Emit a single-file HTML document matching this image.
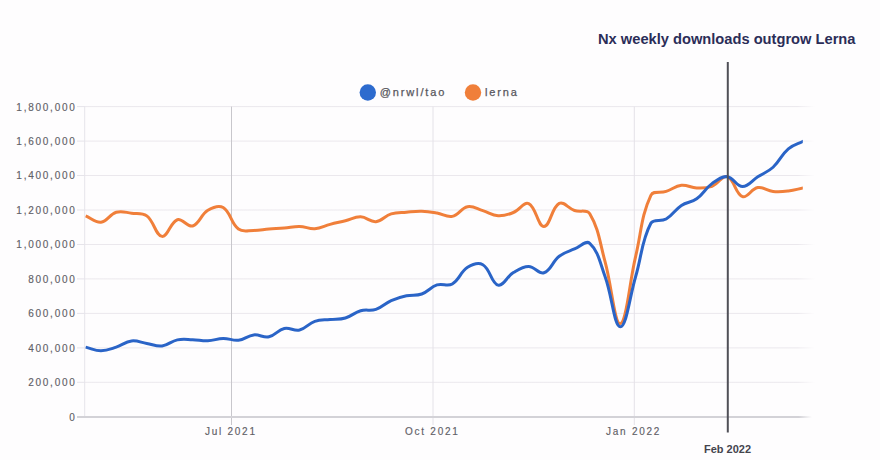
<!DOCTYPE html>
<html><head><meta charset="utf-8"><style>
html,body{margin:0;padding:0;background:#fefdfe;}
body{width:880px;height:460px;overflow:hidden;position:relative;font-family:"Liberation Sans",sans-serif;}
svg{position:absolute;left:0;top:0;}
.ax{font-family:"Liberation Sans",sans-serif;font-size:10px;letter-spacing:1.75px;fill:#616066;stroke:#616066;stroke-width:0.15px;}
.lg{font-family:"Liberation Sans",sans-serif;font-size:11px;letter-spacing:1.85px;fill:#58575d;stroke:#58575d;stroke-width:0.25px;}
.tt{font-family:"Liberation Sans",sans-serif;font-size:15.5px;font-weight:bold;fill:#2b2d58;}
.fb{font-family:"Liberation Sans",sans-serif;font-size:11.5px;font-weight:bold;fill:#44444d;}
</style></head><body>
<svg width="880" height="460" viewBox="0 0 880 460">
<defs>
<linearGradient id="gfade" gradientUnits="userSpaceOnUse" x1="85" y1="0" x2="815" y2="0">
<stop offset="0" stop-color="#ebe8ed"/><stop offset="0.976" stop-color="#ebe8ed"/><stop offset="1" stop-color="#ebe8ed" stop-opacity="0"/>
</linearGradient>
<linearGradient id="afade" gradientUnits="userSpaceOnUse" x1="77" y1="0" x2="812" y2="0">
<stop offset="0" stop-color="#d3d2d7"/><stop offset="0.982" stop-color="#d3d2d7"/><stop offset="1" stop-color="#d3d2d7" stop-opacity="0"/>
</linearGradient>
<clipPath id="pc"><rect x="80" y="0" width="722.8" height="460"/></clipPath>
</defs>
<line x1="77" y1="416.8" x2="85" y2="416.8" stroke="#e6e4ea" stroke-width="1"/><line x1="85" y1="382.3" x2="815" y2="382.3" stroke="url(#gfade)" stroke-width="1"/><line x1="77" y1="382.3" x2="85" y2="382.3" stroke="#e6e4ea" stroke-width="1"/><line x1="85" y1="347.9" x2="815" y2="347.9" stroke="url(#gfade)" stroke-width="1"/><line x1="77" y1="347.9" x2="85" y2="347.9" stroke="#e6e4ea" stroke-width="1"/><line x1="85" y1="313.4" x2="815" y2="313.4" stroke="url(#gfade)" stroke-width="1"/><line x1="77" y1="313.4" x2="85" y2="313.4" stroke="#e6e4ea" stroke-width="1"/><line x1="85" y1="278.9" x2="815" y2="278.9" stroke="url(#gfade)" stroke-width="1"/><line x1="77" y1="278.9" x2="85" y2="278.9" stroke="#e6e4ea" stroke-width="1"/><line x1="85" y1="244.5" x2="815" y2="244.5" stroke="url(#gfade)" stroke-width="1"/><line x1="77" y1="244.5" x2="85" y2="244.5" stroke="#e6e4ea" stroke-width="1"/><line x1="85" y1="210.0" x2="815" y2="210.0" stroke="url(#gfade)" stroke-width="1"/><line x1="77" y1="210.0" x2="85" y2="210.0" stroke="#e6e4ea" stroke-width="1"/><line x1="85" y1="175.5" x2="815" y2="175.5" stroke="url(#gfade)" stroke-width="1"/><line x1="77" y1="175.5" x2="85" y2="175.5" stroke="#e6e4ea" stroke-width="1"/><line x1="85" y1="141.1" x2="815" y2="141.1" stroke="url(#gfade)" stroke-width="1"/><line x1="77" y1="141.1" x2="85" y2="141.1" stroke="#e6e4ea" stroke-width="1"/><line x1="85" y1="106.6" x2="815" y2="106.6" stroke="url(#gfade)" stroke-width="1"/><line x1="77" y1="106.6" x2="85" y2="106.6" stroke="#e6e4ea" stroke-width="1"/>
<line x1="84.7" y1="106.6" x2="84.7" y2="418" stroke="#e6e4ea" stroke-width="1"/>
<line x1="231.5" y1="106.6" x2="231.5" y2="425" stroke="#c8c7cc" stroke-width="1"/><line x1="433" y1="106.6" x2="433" y2="425" stroke="#e4e2e8" stroke-width="1"/><line x1="634.3" y1="106.6" x2="634.3" y2="425" stroke="#e4e2e8" stroke-width="1"/>
<line x1="77" y1="417" x2="812" y2="417" stroke="url(#afade)" stroke-width="2"/>
<text x="76.6" y="420.7" text-anchor="end" class="ax">0</text><text x="76.6" y="386.2" text-anchor="end" class="ax">200,000</text><text x="76.6" y="351.8" text-anchor="end" class="ax">400,000</text><text x="76.6" y="317.3" text-anchor="end" class="ax">600,000</text><text x="76.6" y="282.8" text-anchor="end" class="ax">800,000</text><text x="76.6" y="248.4" text-anchor="end" class="ax">1,000,000</text><text x="76.6" y="213.9" text-anchor="end" class="ax">1,200,000</text><text x="76.6" y="179.4" text-anchor="end" class="ax">1,400,000</text><text x="76.6" y="145.0" text-anchor="end" class="ax">1,600,000</text><text x="76.6" y="110.5" text-anchor="end" class="ax">1,800,000</text>
<text x="230.8" y="434.6" text-anchor="middle" class="ax">Jul 2021</text><text x="432.3" y="434.6" text-anchor="middle" class="ax">Oct 2021</text><text x="633.5999999999999" y="434.6" text-anchor="middle" class="ax">Jan 2022</text>
<path d="M85.69 215.96 C91.80 218.46 95.16 222.90 100.97 222.20 C107.38 221.43 109.60 214.26 116.24 212.29 C121.82 210.64 125.45 212.45 131.52 213.17 C137.67 213.89 142.17 212.39 146.79 215.89 C154.39 221.67 155.58 235.56 162.07 236.37 C167.80 237.09 170.28 222.12 177.34 219.71 C182.50 217.96 187.36 227.57 192.62 225.95 C199.58 223.81 200.74 214.61 207.89 210.31 C212.96 207.25 218.64 204.78 223.17 207.56 C230.86 212.28 230.72 223.28 238.44 229.05 C242.94 232.41 247.61 230.39 253.72 230.39 C259.83 230.38 262.87 229.47 268.99 229.01 C275.09 228.55 278.17 228.61 284.27 228.09 C290.39 227.57 293.45 226.27 299.54 226.40 C305.67 226.53 308.79 229.13 314.82 228.73 C321.01 228.32 323.95 225.99 330.09 224.38 C336.17 222.79 339.27 222.24 345.37 220.74 C351.49 219.23 354.58 216.68 360.64 216.86 C366.80 217.04 370.02 222.22 375.92 221.64 C382.24 221.01 384.75 215.83 391.19 213.83 C396.97 212.04 400.34 212.67 406.47 212.16 C412.56 211.66 415.65 211.11 421.74 211.29 C427.87 211.48 430.95 212.08 437.02 213.09 C443.17 214.11 446.62 217.52 452.29 216.35 C458.84 214.99 461.05 207.99 467.57 206.77 C473.27 205.70 476.80 208.85 482.84 210.62 C489.02 212.43 491.91 215.33 498.12 215.72 C504.13 216.09 507.66 214.78 513.39 212.50 C519.88 209.92 523.88 201.38 528.67 203.57 C536.10 206.96 537.85 226.49 543.94 226.45 C550.07 226.42 551.62 207.37 559.22 203.40 C563.84 200.98 568.16 208.32 574.49 210.48 C580.38 212.49 586.86 208.98 589.77 213.84 C599.08 229.41 599.67 242.27 605.04 261.57 C611.89 286.17 614.43 324.57 620.32 323.61 C626.65 322.57 629.22 283.33 635.59 256.58 C641.44 232.04 641.09 216.23 650.87 195.37 C653.31 190.16 660.16 193.39 666.14 191.40 C672.38 189.33 675.12 185.95 681.42 185.23 C687.34 184.56 690.55 187.69 696.69 187.92 C702.77 188.14 706.36 188.43 711.97 186.35 C718.58 183.91 722.13 174.89 727.24 176.61 C734.35 179.01 735.35 194.07 742.52 196.64 C747.57 198.46 751.31 188.70 757.79 187.59 C763.53 186.61 766.87 190.71 773.07 191.39 C779.09 192.06 782.29 191.65 788.34 190.96 C794.51 190.25 797.51 189.12 803.62 187.90" fill="none" stroke="#f07f3a" stroke-width="3" stroke-linejoin="round" stroke-linecap="butt" clip-path="url(#pc)"/>
<path d="M85.69 347.13 C91.80 348.57 94.86 350.73 100.97 350.73 C107.08 350.72 110.28 349.01 116.24 347.10 C122.50 345.10 125.22 341.68 131.52 340.93 C137.44 340.23 140.68 342.46 146.79 343.46 C152.90 344.46 156.14 346.63 162.07 345.94 C168.36 345.20 171.01 341.18 177.34 339.89 C183.23 338.69 186.51 339.53 192.62 339.71 C198.73 339.89 201.81 341.06 207.89 340.80 C214.03 340.54 217.04 338.53 223.17 338.41 C229.26 338.29 232.48 340.90 238.44 340.22 C244.70 339.51 247.46 335.62 253.72 334.92 C259.68 334.25 263.26 338.00 268.99 336.79 C275.48 335.42 277.78 329.91 284.27 328.47 C290.00 327.19 293.84 331.32 299.54 329.99 C306.06 328.46 308.30 323.54 314.82 321.31 C320.52 319.36 323.98 320.19 330.09 319.53 C336.20 318.87 339.55 319.68 345.37 318.00 C351.77 316.16 354.23 312.55 360.64 310.75 C366.45 309.11 370.24 311.29 375.92 309.39 C382.46 307.21 384.78 303.41 391.19 300.54 C397.00 297.95 400.23 297.08 406.47 295.74 C412.45 294.45 416.07 295.98 421.74 293.97 C428.29 291.65 430.45 287.07 437.02 284.92 C442.67 283.06 447.35 286.77 452.29 283.93 C459.57 279.74 460.32 271.90 467.57 267.34 C472.54 264.20 478.23 262.00 482.84 264.69 C490.45 269.13 491.23 283.38 498.12 285.16 C503.45 286.54 506.72 276.67 513.39 272.59 C518.94 269.19 522.57 266.42 528.67 266.46 C534.79 266.50 538.76 274.51 543.94 272.79 C550.98 270.44 552.25 261.73 559.22 256.29 C564.47 252.19 568.26 251.60 574.49 248.94 C580.48 246.39 585.99 239.87 589.77 243.27 C598.21 250.86 600.04 262.73 605.04 276.41 C612.26 296.17 614.19 326.80 620.32 326.87 C626.41 326.94 629.67 296.86 635.59 276.76 C641.89 255.42 641.36 241.24 650.87 223.27 C653.58 218.16 660.82 222.19 666.14 219.07 C673.04 215.04 674.67 209.87 681.42 205.39 C686.89 201.76 691.36 202.57 696.69 198.77 C703.58 193.87 705.10 188.59 711.97 183.63 C717.32 179.76 721.38 176.11 727.24 176.68 C733.60 177.30 736.39 186.57 742.52 186.59 C748.61 186.62 751.67 180.71 757.79 176.83 C763.89 172.97 767.82 172.05 773.07 167.24 C780.04 160.84 781.22 154.90 788.34 148.80 C793.44 144.44 797.51 144.16 803.62 141.07" fill="none" stroke="#2a64c7" stroke-width="3" stroke-linejoin="round" stroke-linecap="butt" clip-path="url(#pc)"/>
<line x1="727.8" y1="62" x2="727.8" y2="432.6" stroke="#505057" stroke-width="2"/>
<circle cx="367.8" cy="92.5" r="8.2" fill="#2d6bce"/>
<text x="379.8" y="96" class="lg">@nrwl/tao</text>
<circle cx="473" cy="92.5" r="8.2" fill="#f07f3a"/>
<text x="485" y="96" class="lg">lerna</text>
<text x="598" y="44" class="tt" textLength="257.5" lengthAdjust="spacingAndGlyphs">Nx weekly downloads outgrow Lerna</text>
<text x="704" y="453" class="fb" textLength="47" lengthAdjust="spacingAndGlyphs">Feb 2022</text>
</svg>
</body></html>
